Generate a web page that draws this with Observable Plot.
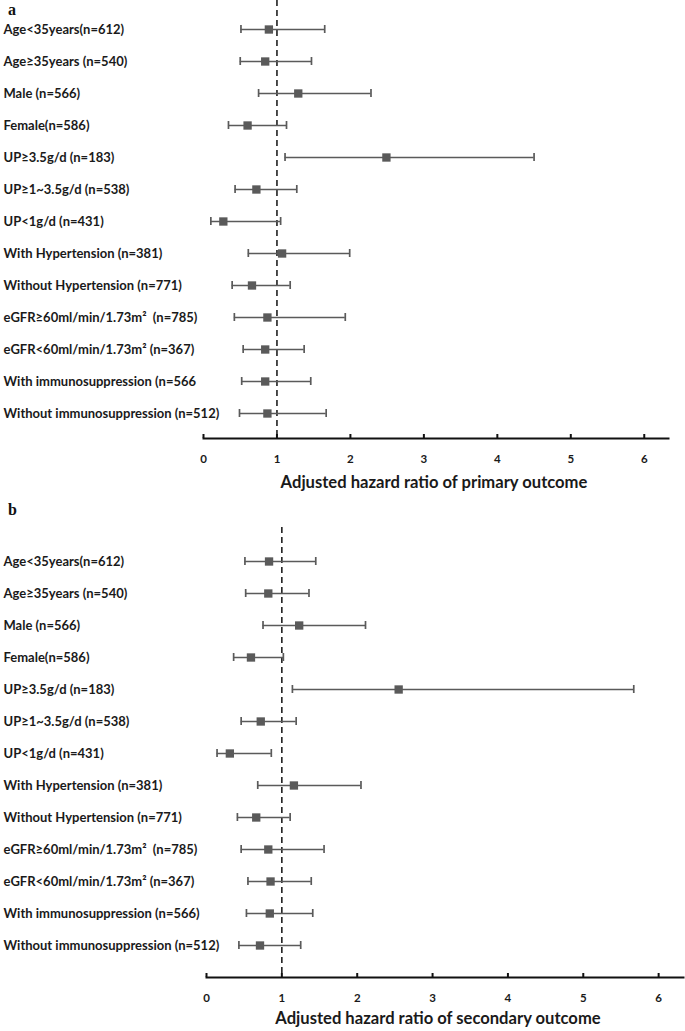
<!DOCTYPE html>
<html>
<head>
<meta charset="utf-8">
<script src="https://cdn.jsdelivr.net/npm/d3@7"></script>
<script src="https://cdn.jsdelivr.net/npm/@observablehq/plot@0.6"></script>
<style>
  html, body { margin: 0; padding: 0; background: #fff; }
  body { position: relative; width: 685px; height: 1031px; overflow: hidden; font-family: Lato, "Open Sans", sans-serif; }
  .panel { position: absolute; left: 0; }
  .letter { position: absolute; left: 8px; font-family: "Liberation Serif", "DejaVu Serif", serif; font-weight: bold; font-size: 16px; line-height: 16px; color: #111; }
  .xtitle { position: absolute; text-align: center; font-family: Lato, sans-serif; font-weight: bold; font-size: 16.6px; line-height: 20px; color: #1a1a1a; white-space: nowrap; }
</style>
</head>
<body>
<div id="pa" class="panel" style="top:0px"></div>
<div id="pb" class="panel" style="top:500px"></div>
<div class="letter" style="top:2px">a</div>
<div class="letter" style="top:502px">b</div>
<div class="xtitle" style="top:472px; left:200px; width:468px;">Adjusted hazard ratio of primary outcome</div>
<div class="xtitle" style="top:1008px; left:200px; width:476px;">Adjusted hazard ratio of secondary outcome</div>
<script>
// ---- Data ----
const labelsA = [
  "Age<35years(n=612)",
  "Age≥35years (n=540)",
  "Male (n=566)",
  "Female(n=586)",
  "UP≥3.5g/d (n=183)",
  "UP≥1~3.5g/d (n=538)",
  "UP<1g/d (n=431)",
  "With Hypertension (n=381)",
  "Without Hypertension (n=771)",
  "eGFR≥60ml/min/1.73m²\u00a0 (n=785)",
  "eGFR<60ml/min/1.73m² (n=367)",
  "With immunosuppression (n=566",
  "Without immunosuppression (n=512)"
];
const hrA   = [0.89, 0.84, 1.29, 0.60, 2.49, 0.72, 0.27, 1.07, 0.66, 0.87, 0.84, 0.84, 0.87];
const lowA  = [0.51, 0.50, 0.75, 0.34, 1.11, 0.43, 0.10, 0.61, 0.39, 0.42, 0.54, 0.52, 0.49];
const highA = [1.65, 1.47, 2.28, 1.13, 4.50, 1.27, 1.05, 1.99, 1.18, 1.93, 1.37, 1.46, 1.67];

const labelsB = [
  "Age<35years(n=612)",
  "Age≥35years (n=540)",
  "Male (n=566)",
  "Female(n=586)",
  "UP≥3.5g/d (n=183)",
  "UP≥1~3.5g/d (n=538)",
  "UP<1g/d (n=431)",
  "With Hypertension (n=381)",
  "Without Hypertension (n=771)",
  "eGFR≥60ml/min/1.73m²\u00a0 (n=785)",
  "eGFR<60ml/min/1.73m² (n=367)",
  "With immunosuppression (n=566)",
  "Without immunosuppression (n=512)"
];
const hrB   = [0.83, 0.82, 1.23, 0.59, 2.55, 0.72, 0.31, 1.16, 0.66, 0.82, 0.85, 0.84, 0.71];
const lowB  = [0.51, 0.52, 0.75, 0.36, 1.14, 0.46, 0.14, 0.68, 0.41, 0.46, 0.55, 0.53, 0.43];
const highB = [1.45, 1.36, 2.11, 1.02, 5.67, 1.19, 0.86, 2.05, 1.11, 1.56, 1.39, 1.41, 1.25];

const xTicks = [0, 1, 2, 3, 4, 5, 6];
const refLine = [1];

const markColor = "#5a5a5a";

function forest(labels, hr, low, high, opts) {
  const rows = labels.map((label, i) => ({label, hr: hr[i], low: low[i], high: high[i]}));
  return Plot.plot({
    width: 685,
    height: opts.height,
    marginTop: opts.marginTop,
    marginBottom: opts.marginBottom,
    marginLeft: opts.marginLeft,
    marginRight: opts.marginRight,
    style: {background: "white", overflow: "visible"},
    x: {domain: [0, 6.33], ticks: xTicks, axis: null},
    y: {type: "band", domain: labels, range: opts.yRange, padding: 0, axis: null},
    marks: [
      Plot.frame({anchor: "bottom", stroke: "#111", strokeWidth: 2}),
      Plot.ruleX(refLine, {stroke: "#111", strokeWidth: 1.5, strokeDasharray: "6,4"}),
      Plot.ruleY(rows, {y: "label", x1: "low", x2: "high", stroke: markColor, strokeWidth: 1.7}),
      Plot.tickX(rows, {y: "label", x: "low", stroke: markColor, strokeWidth: 1.7, insetTop: 12, insetBottom: 12}),
      Plot.tickX(rows, {y: "label", x: "high", stroke: markColor, strokeWidth: 1.7, insetTop: 12, insetBottom: 12}),
      Plot.dot(rows, {y: "label", x: "hr", symbol: "square", r: 4.7, fill: markColor, stroke: null}),
      Plot.axisX(xTicks, {anchor: "bottom", label: null, tickSize: -4, strokeWidth: 2, stroke: "#111", tickPadding: 20, fontSize: 11.5, fontWeight: "bold", fill: "#1a1a1a", fontFamily: "Lato, sans-serif"}),
      Plot.axisY({anchor: "left", label: null, tickSize: 0, tickPadding: 0, dx: -(opts.marginLeft - 3), textAnchor: "start", fontSize: 13, fontWeight: "bold", fill: "#1a1a1a", fontFamily: "Lato, sans-serif"})
    ]
  });
}

document.getElementById("pa").appendChild(forest(labelsA, hrA, lowA, highA, {
  height: 472, marginTop: 0, marginBottom: 34, marginLeft: 203, marginRight: 17, yRange: [12, 429]
}));
document.getElementById("pb").appendChild(forest(labelsB, hrB, lowB, highB, {
  height: 510, marginTop: 27, marginBottom: 33, marginLeft: 206, marginRight: 2, yRange: [40.3, 465.4]
}));
</script>
</body>
</html>
